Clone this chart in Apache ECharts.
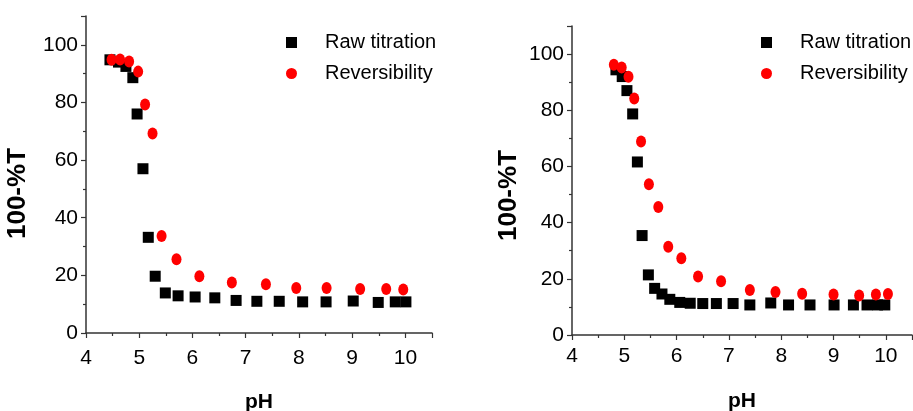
<!DOCTYPE html>
<html>
<head>
<meta charset="utf-8">
<script src="https://cdn.jsdelivr.net/npm/echarts@6/dist/echarts.min.js"></script>
<style>html,body{margin:0;padding:0;background:#fff}#c{width:913px;height:411px}</style>
</head>
<body>
<div id="c"></div>
<script>
// Left panel
const leftRawPH = [4.45,4.61,4.75,4.88,4.96,5.07,5.17,5.30,5.49,5.73,6.05,6.42,6.82,7.21,7.63,8.07,8.51,9.02,9.49,9.81,10.01];
const leftRawT  = [94.8,94.0,92.5,88.6,76.0,57.0,33.2,19.7,13.9,12.9,12.5,12.2,11.3,11.0,11.0,10.8,10.8,11.1,10.6,10.8,10.8];
const leftRevPH = [4.48,4.64,4.81,4.98,5.11,5.25,5.42,5.70,6.13,6.74,7.38,7.95,8.52,9.15,9.64,9.96];
const leftRevT  = [94.8,94.9,94.2,90.7,79.3,69.2,33.7,25.6,19.7,17.5,16.9,15.6,15.6,15.3,15.3,15.1];
// Right panel
const rightRawPH = [4.84,4.96,5.05,5.16,5.25,5.34,5.46,5.58,5.72,5.87,6.06,6.26,6.50,6.76,7.08,7.40,7.80,8.14,8.55,9.01,9.38,9.64,9.84,9.98];
const rightRawT  = [94.4,92.0,87.0,78.7,61.6,35.4,21.4,16.6,14.6,12.7,11.6,11.3,11.2,11.2,11.2,10.7,11.4,10.7,10.7,10.7,10.7,10.7,10.7,10.7];
const rightRevPH = [4.80,4.95,5.08,5.19,5.32,5.47,5.65,5.84,6.09,6.41,6.85,7.40,7.89,8.40,9.00,9.49,9.81,10.04];
const rightRevT  = [96.2,95.2,91.9,84.2,68.9,53.7,45.6,31.4,27.3,20.8,19.1,16.0,15.3,14.7,14.4,14.1,14.4,14.6];
// Axes / labels
const xTitle = 'pH';
const yTitle = '100-%T';
const seriesNames = ['Raw titration', 'Reversibility'];

const zip = (a, b) => a.map((v, i) => [v, b[i]]);
const FONT = '"Liberation Sans", Arial, sans-serif';
const axisColor = '#333';

function xAxis(gi, labelMargin, gap) {
  return {
    type: 'value', gridIndex: gi, min: 4, max: 10.5, interval: 1,
    name: xTitle, nameLocation: 'middle', nameGap: gap,
    nameTextStyle: {fontFamily: FONT, fontSize: 21, fontWeight: 'bold', color: '#000'},
    axisLine: {show: true, onZero: false, lineStyle: {color: axisColor, width: 1.5}},
    axisTick: {show: true, inside: false, length: 5, lineStyle: {color: axisColor, width: 1.2}},
    minorTick: {show: true, splitNumber: 2, length: 3, lineStyle: {color: axisColor, width: 1.2}},
    splitLine: {show: false},
    axisLabel: {fontFamily: FONT, fontSize: 21, color: '#000', margin: labelMargin, showMaxLabel: false}
  };
}
function yAxis(gi, gap, shift) {
  return {
    type: 'value', gridIndex: gi, min: 0, max: 110, interval: 20,
    name: yTitle, nameLocation: 'middle', nameGap: gap, nameRotate: 90,
    nameTextStyle: {fontFamily: FONT, fontSize: 26, fontWeight: 'bold', color: '#000', padding: [0, shift, 0, 0]},
    axisLine: {show: true, onZero: false, lineStyle: {color: axisColor, width: 1.5}},
    axisTick: {show: true, inside: false, length: 5, lineStyle: {color: axisColor, width: 1.2}},
    minorTick: {show: true, splitNumber: 2, length: 3, lineStyle: {color: axisColor, width: 1.2}},
    splitLine: {show: false},
    axisLabel: {fontFamily: FONT, fontSize: 21, color: '#000', margin: 8, showMaxLabel: false}
  };
}
function legend(left, top) {
  return {
    orient: 'vertical', left: left, top: top, itemWidth: 11, itemHeight: 11, itemGap: 10,
    selectedMode: false, padding: 0,
    textStyle: {fontFamily: FONT, fontSize: 20, lineHeight: 21, color: '#000', padding: [0, 0, 0, 23]},
    data: [{name: seriesNames[0], icon: 'rect'}, {name: seriesNames[1], icon: 'circle'}]
  };
}

const chart = echarts.init(document.getElementById('c'), null, {renderer: 'canvas'});
chart.setOption({
  animation: false,
  backgroundColor: '#fff',
  grid: [
    {left: 86, top: 16, width: 346, height: 317, outerBoundsMode: 'none', containLabel: false},
    {left: 572, top: 26, width: 340, height: 309, outerBoundsMode: 'none', containLabel: false}
  ],
  legend: [legend(286, 32), legend(761, 32)],
  xAxis: [xAxis(0, 15, 59), xAxis(1, 11, 56)],
  yAxis: [yAxis(0, 55, 38), yAxis(1, 50, 30)],
  series: [
    {name: seriesNames[0], type: 'scatter', xAxisIndex: 0, yAxisIndex: 0, symbol: 'rect', symbolSize: 11, itemStyle: {color: '#000', opacity: 1}, data: zip(leftRawPH, leftRawT)},
    {name: seriesNames[1], type: 'scatter', xAxisIndex: 0, yAxisIndex: 0, symbol: 'circle', symbolSize: [10, 12], itemStyle: {color: '#ff0000', opacity: 1}, data: zip(leftRevPH, leftRevT)},
    {name: seriesNames[0], type: 'scatter', xAxisIndex: 1, yAxisIndex: 1, symbol: 'rect', symbolSize: 11, itemStyle: {color: '#000', opacity: 1}, data: zip(rightRawPH, rightRawT)},
    {name: seriesNames[1], type: 'scatter', xAxisIndex: 1, yAxisIndex: 1, symbol: 'circle', symbolSize: [10, 12], itemStyle: {color: '#ff0000', opacity: 1}, data: zip(rightRevPH, rightRevT)}
  ]
});
</script>
</body>
</html>
